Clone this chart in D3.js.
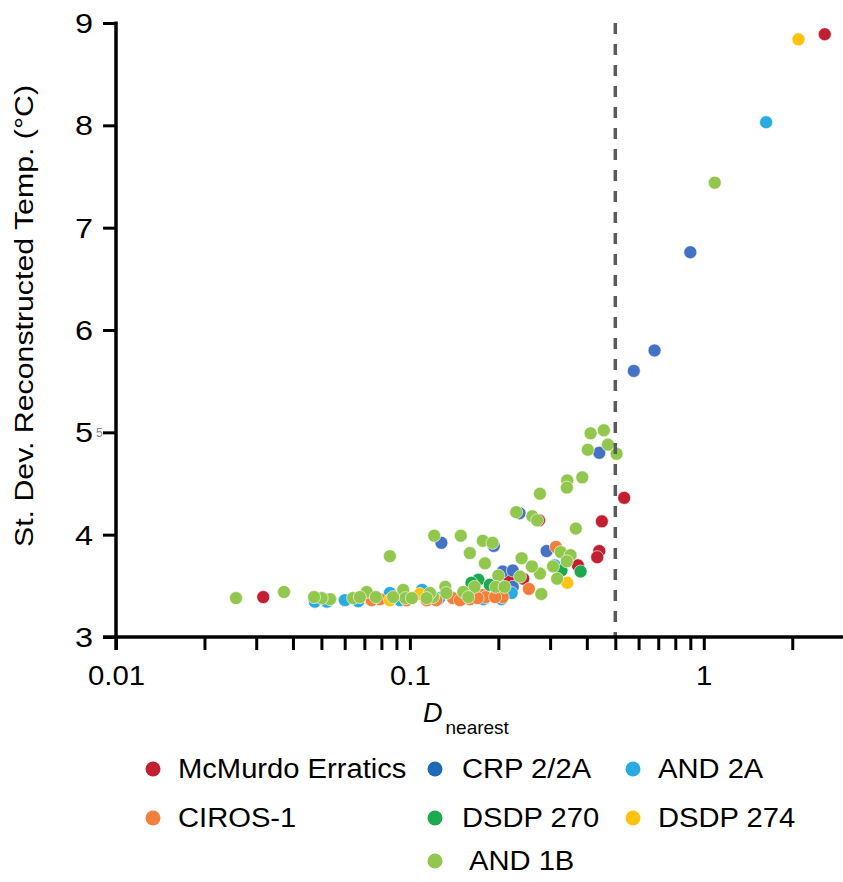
<!DOCTYPE html>
<html>

<head>
    <title>St. Dev. Reconstructed Temp. vs D nearest</title>
    <script src="https://d3js.org/d3.v7.min.js"></script>
    <style>
        body { margin: 0; background: #fff; }
        text { font-family: "Liberation Sans", Arial, sans-serif; fill: #000; }
    </style>
</head>

<body>
    <svg id="chart"></svg>

    <script>
        // Series names and colours (legend order)
        const seriesNames = ['McMurdo Erratics', 'CRP 2/2A', 'AND 2A', 'CIROS-1', 'DSDP 270', 'DSDP 274', 'AND 1B'];
        const seriesColors = ['#c21f30', '#4472c4', '#29abe2', '#f0803a', '#1daa4e', '#ffc20e', '#92c74e'];
        const legendColors = ['#c21f30', '#1b6cb4', '#29abe2', '#f0803a', '#1daa4e', '#ffc20e', '#92c74e'];

        // [D_nearest, st. dev. reconstructed temp]
        const mcmurdo = [
            [2.58, 8.89], [0.536, 4.36], [0.450, 4.13], [0.441, 3.84], [0.434, 3.78],
            [0.373, 3.70], [0.275, 4.14], [0.218, 3.56], [0.243, 3.57], [0.0317, 3.39]
        ];
        const crp = [
            [0.90, 6.76], [0.68, 5.80], [0.578, 5.60], [0.441, 4.80], [0.236, 4.21],
            [0.128, 3.92], [0.193, 3.89], [0.292, 3.84], [0.207, 3.64], [0.224, 3.65],
            [0.224, 3.49]
        ];
        const and2a = [
            [1.63, 8.03], [0.222, 3.43], [0.311, 3.70], [0.205, 3.37], [0.110, 3.46],
            [0.0855, 3.43], [0.0601, 3.36], [0.0667, 3.35], [0.0475, 3.345], [0.0522, 3.345],
            [0.126, 3.38], [0.160, 3.38], [0.0925, 3.36], [0.178, 3.37]
        ];
        const ciros = [
            [0.314, 3.88], [0.254, 3.47], [0.177, 3.41], [0.181, 3.39], [0.207, 3.39],
            [0.140, 3.38], [0.114, 3.36], [0.123, 3.36], [0.0975, 3.36], [0.0791, 3.37],
            [0.0741, 3.36], [0.160, 3.37], [0.148, 3.36], [0.195, 3.39], [0.170, 3.38]
        ];
        const dsdp270 = [
            [0.381, 3.64], [0.328, 3.65], [0.171, 3.56], [0.162, 3.53], [0.187, 3.51]
        ];
        const dsdp274 = [
            [2.10, 8.84], [0.343, 3.53], [0.108, 3.42], [0.0855, 3.36]
        ];
        const and1b = [
            [1.09, 7.44], [0.505, 4.79], [0.472, 4.88], [0.457, 5.02], [0.412, 4.99],
            [0.403, 4.83], [0.386, 4.56], [0.343, 4.53], [0.342, 4.46], [0.277, 4.40],
            [0.230, 4.22], [0.261, 4.18], [0.271, 4.14], [0.367, 4.06], [0.121, 3.99],
            [0.149, 3.99], [0.177, 3.94], [0.191, 3.92], [0.160, 3.82], [0.326, 3.83],
            [0.352, 3.80], [0.342, 3.74], [0.0855, 3.79], [0.240, 3.77], [0.180, 3.72],
            [0.307, 3.69], [0.277, 3.62], [0.260, 3.69], [0.317, 3.57], [0.200, 3.60],
            [0.237, 3.59], [0.280, 3.42], [0.166, 3.49], [0.196, 3.49], [0.210, 3.49],
            [0.152, 3.44], [0.132, 3.49], [0.133, 3.43], [0.120, 3.39], [0.117, 3.43],
            [0.114, 3.38], [0.0949, 3.46], [0.0965, 3.38], [0.0877, 3.39], [0.0713, 3.44],
            [0.0766, 3.39], [0.0641, 3.38], [0.0676, 3.39], [0.0535, 3.37], [0.0501, 3.38],
            [0.0472, 3.39], [0.0373, 3.44], [0.0256, 3.38], [0.1016, 3.38], [0.158, 3.39]
        ];
        const seriesData = [mcmurdo, crp, and2a, ciros, dsdp270, dsdp274, and1b];

        // Axis ticks and threshold
        const yTicks = [3, 4, 5, 6, 7, 8, 9];
        const xMajorTicks = [0.01, 0.1, 1];
        const threshold = 0.5;

        const width = 843;
        const height = 882;

        const svg = d3.select('#chart')
            .attr('width', width)
            .attr('height', height);

        const x = d3.scaleLog().domain([0.01, 3]).range([116, 844]);
        const y = d3.scaleLinear().domain([3, 9]).range([637, 23]);

        // minor ticks 0.01 .. 3
        const xAllTicks = x.ticks().filter(t => t <= 3);

        // Points (drawn first so the axes sit on top)
        seriesData.forEach((pts, i) => {
            svg.append('g')
                .selectAll('circle')
                .data(pts)
                .enter()
                .append('circle')
                .attr('cx', d => x(d[0]))
                .attr('cy', d => y(d[1]))
                .attr('r', 6.5)
                .attr('fill', seriesColors[i])
                .attr('stroke', '#fff')
                .attr('stroke-width', 0.6);
        });

        // Threshold dashed line
        svg.append('line')
            .attr('x1', x(threshold)).attr('x2', x(threshold))
            .attr('y1', y(9)).attr('y2', y(3))
            .attr('stroke', '#5a5a5a')
            .attr('stroke-width', 3.5)
            .attr('stroke-dasharray', '11,10');

        // X axis
        const xAxis = d3.axisBottom(x)
            .tickValues(xAllTicks)
            .tickSize(13)
            .tickFormat(d => xMajorTicks.includes(d) ? d3.format('~g')(d) : '');
        const gx = svg.append('g')
            .attr('transform', `translate(0,${y(3)})`)
            .call(xAxis);
        gx.select('.domain').remove();
        gx.append('line')
            .attr('x1', 103).attr('x2', 843)
            .attr('stroke', '#000').attr('stroke-width', 3.5);
        gx.selectAll('.tick line').attr('stroke', '#000').attr('stroke-width', 3);
        gx.selectAll('.tick text')
            .attr('dy', 0)
            .attr('y', 0)
            .attr('transform', 'translate(0,48) scale(1.05,1)')
            .style('font-size', '28px')
            .style('font-family', '"Liberation Sans", Arial, sans-serif')
            .attr('fill', '#000');

        // Y axis
        const yAxis = d3.axisLeft(y)
            .tickValues(yTicks)
            .tickSize(13)
            .tickFormat(d3.format('d'));
        const gy = svg.append('g')
            .attr('transform', `translate(${x(0.01)},0)`)
            .call(yAxis);
        gy.select('.domain').remove();
        gy.append('line')
            .attr('y1', y(9) - 1.5).attr('y2', y(3) + 13)
            .attr('stroke', '#000').attr('stroke-width', 3.5);
        gy.selectAll('.tick line').attr('stroke', '#000').attr('stroke-width', 3);
        gy.selectAll('.tick text')
            .attr('x', 0)
            .attr('dy', '0.35em')
            .attr('transform', 'translate(-23,0) scale(1.2,1)')
            .style('font-size', '27px')
            .style('font-family', '"Liberation Sans", Arial, sans-serif')
            .attr('fill', '#000');

        // small grey "5" artefact next to the 5 label
        svg.append('text')
            .attr('x', x(0.01) - 20)
            .attr('y', y(5) + 5)
            .style('font-size', '12px')
            .style('fill', '#888')
            .text('5');

        // Y title
        svg.append('text')
            .attr('transform', 'translate(33,316) rotate(-90)')
            .attr('text-anchor', 'middle')
            .attr('textLength', 462)
            .attr('lengthAdjust', 'spacingAndGlyphs')
            .style('font-size', '26px')
            .text('St. Dev. Reconstructed Temp. (°C)');

        // X title: D (italic) with subscript
        const xt = svg.append('text')
            .attr('x', 423)
            .attr('y', 722)
            .style('font-size', '27px');
        xt.append('tspan').style('font-style', 'italic').text('D');
        xt.append('tspan')
            .attr('dx', 3)
            .attr('dy', 12)
            .style('font-size', '19px')
            .text('nearest');

        // Legend
        const legendPos = [
            [153, 769], [435, 769], [633, 769],
            [153, 818], [435, 818], [633, 818],
            [435, 861]
        ];
        const legendTextDx = [25, 27, 25, 25, 27, 25, 34];
        const legend = svg.append('g')
            .selectAll('g')
            .data(seriesNames)
            .enter()
            .append('g')
            .attr('transform', (d, i) => `translate(${legendPos[i][0]},${legendPos[i][1]})`);
        legend.append('circle')
            .attr('r', 7.5)
            .attr('fill', (d, i) => legendColors[i]);
        legend.append('text')
            .attr('transform', (d, i) => `translate(${legendTextDx[i]},9) scale(1.08,1)`)
            .style('font-size', '27px')
            .text(d => d);
    </script>
</body>

</html>
